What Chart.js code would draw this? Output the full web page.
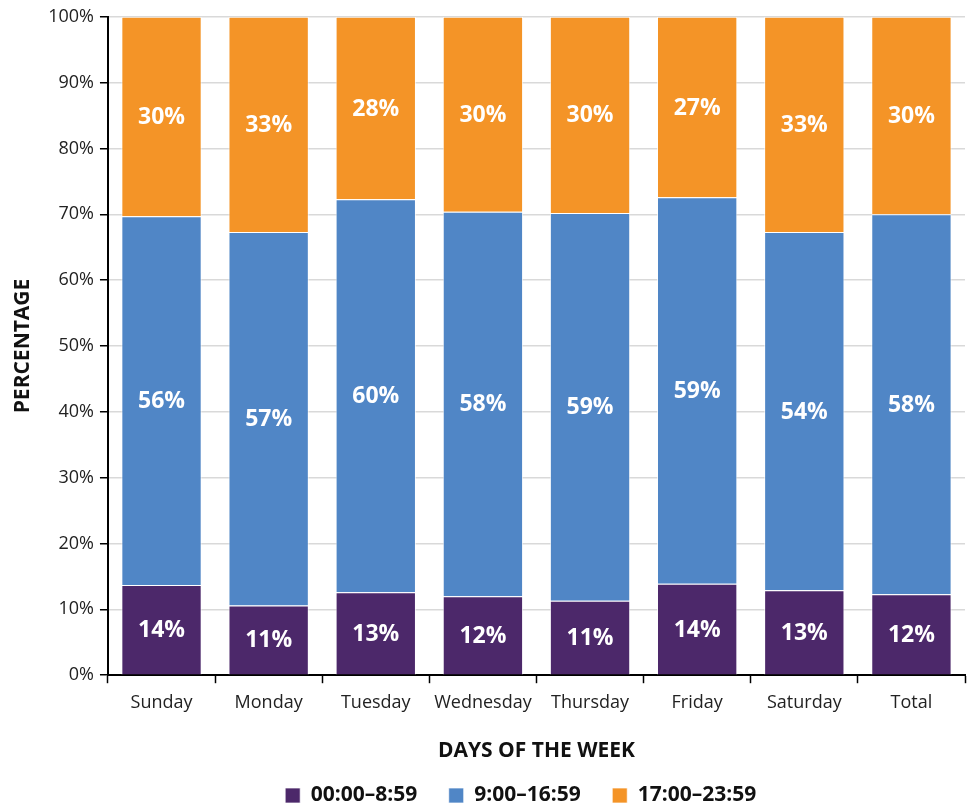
<!DOCTYPE html>
<html>
<head>
<meta charset="utf-8">
<script src="https://cdn.jsdelivr.net/npm/chart.js@4.4.1/dist/chart.umd.min.js"></script>
<style>
  html, body { margin: 0; padding: 0; background: #fff; }
  #wrap { width: 973px; height: 807px; }
</style>
</head>
<body>
<div id="wrap"><canvas id="timeChart" width="973" height="807"></canvas></div>
<script>
// categories and series (percent of each day)
const days = ['Sunday', 'Monday', 'Tuesday', 'Wednesday', 'Thursday', 'Friday', 'Saturday', 'Total'];
const night = [13.7, 10.6, 12.6, 12.0, 11.3, 13.9, 12.9, 12.3];    // 00:00–8:59
const daytime = [56.0, 56.7, 59.7, 58.4, 58.9, 58.7, 54.4, 57.7];  // 9:00–16:59
const evening = [30.3, 32.7, 27.7, 29.6, 29.8, 27.4, 32.7, 30.0];  // 17:00–23:59
const seriesNames = ['00:00–8:59', '9:00–16:59', '17:00–23:59'];
const yTicks = [0, 10, 20, 30, 40, 50, 60, 70, 80, 90, 100];

const font = "'Open Sans', 'Noto Sans', sans-serif";

// draws the white % labels in the middle of each segment
const segmentLabels = {
    id: 'segmentLabels',
    afterDatasetsDraw(chart) {
        const ctx = chart.ctx;
        ctx.save();
        ctx.fillStyle = '#ffffff';
        ctx.font = 'bold 23px ' + font;
        ctx.textAlign = 'center';
        ctx.textBaseline = 'middle';
        chart.data.datasets.forEach((ds, i) => {
            const meta = chart.getDatasetMeta(i);
            meta.data.forEach((bar, j) => {
                const mid = (bar.y + bar.base) / 2;
                ctx.fillText(Math.round(ds.data[j]) + '%', bar.x, mid + 1);
            });
        });
        ctx.restore();
    }
};

const baseLegendLabels = Chart.defaults.plugins.legend.labels.generateLabels;

const ctx = document.getElementById('timeChart').getContext('2d');
new Chart(ctx, {
    type: 'bar',
    data: {
        labels: days,
        datasets: [
            { label: seriesNames[0], data: night, backgroundColor: '#4c286a' },
            { label: seriesNames[1], data: daytime, backgroundColor: '#5086c6' },
            { label: seriesNames[2], data: evening, backgroundColor: '#f49427' }
        ].map(d => Object.assign(d, {
            borderColor: 'rgba(255,255,255,0.7)',
            borderWidth: 1,
            barPercentage: 0.75,
            categoryPercentage: 1
        }))
    },
    options: {
        responsive: false,
        animation: false,
        layout: { padding: { left: 10, right: 8, top: 12, bottom: -9 } },
        scales: {
            x: {
                stacked: true,
                grid: {
                    offset: true,
                    drawOnChartArea: false,
                    color: '#000',
                    tickLength: 8,
                    tickWidth: 1.5
                },
                border: { color: '#000', width: 2 },
                ticks: { color: '#222', font: { family: font, size: 18 }, padding: 9 },
                title: {
                    display: true,
                    text: 'DAYS OF THE WEEK',
                    color: '#111',
                    font: { family: font, size: 21, weight: 'bold' },
                    padding: { top: 16, bottom: 0 }
                }
            },
            y: {
                stacked: true,
                min: 0,
                max: 100,
                afterBuildTicks: axis => { axis.ticks = yTicks.map(v => ({ value: v })); },
                grid: {
                    color: '#d9d9d9',
                    lineWidth: 1.5,
                    tickColor: '#000',
                    tickLength: 8
                },
                border: { color: '#000', width: 2 },
                ticks: {
                    color: '#222',
                    font: { family: font, size: 18 },
                    padding: 6,
                    callback: v => v + '%'
                },
                title: {
                    display: true,
                    text: 'PERCENTAGE',
                    color: '#111',
                    font: { family: font, size: 21, weight: 'bold' },
                    padding: { top: 0, bottom: 7 }
                }
            }
        },
        plugins: {
            legend: {
                position: 'bottom',
                fullSize: false,
                labels: {
                    color: '#111',
                    font: { family: font, size: 21, weight: 'bold' },
                    boxWidth: 15,
                    boxHeight: 15,
                    padding: 21,
                    // a little extra room between the items, and a nudge to the left
                    generateLabels: chart => baseLegendLabels(chart).map((item, i, all) => {
                        item.text += (i < all.length - 1) ? '\u2002' : '\u2002\u2002\u2002';
                        return item;
                    })
                }
            },
            tooltip: { enabled: false }
        }
    },
    plugins: [segmentLabels]
});
</script>
</body>
</html>
